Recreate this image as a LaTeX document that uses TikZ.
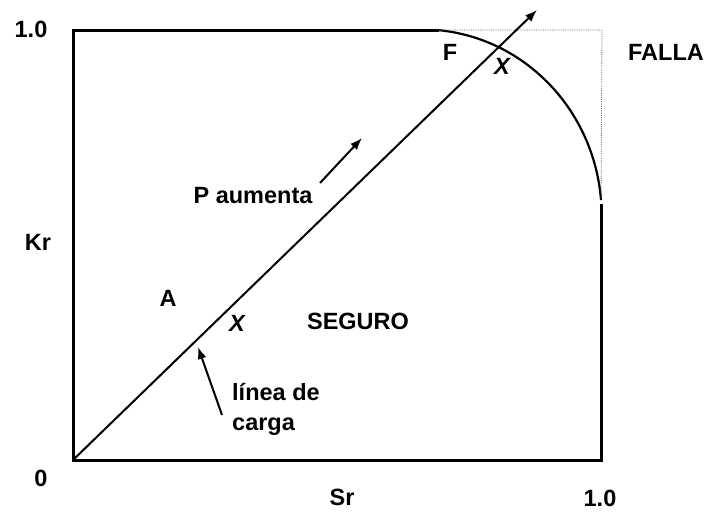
\documentclass[tikz,border=0pt]{standalone}
\usepackage{fontspec}
\setmainfont{Liberation Sans}
\usetikzlibrary{arrows.meta}
\begin{document}
\begin{tikzpicture}[x=1pt,y=-1pt,
  lbl/.style={font=\fontsize{23.5}{29}\selectfont\bfseries, inner sep=0pt, text=black},
  ilbl/.style={lbl, font=\fontsize{23.5}{29}\selectfont\bfseries\itshape},
  frame/.style={line width=3pt, line cap=rect},
  curve/.style={line width=2.2pt},
  guide/.style={densely dotted, line width=0.8pt, black!60},
  arr/.style={line width=2pt, -{Latex[length=12pt,width=9pt]}}]
\useasboundingbox (0,0) rectangle (710,512);
% key coordinates
\coordinate (O) at (73,460);
\coordinate (TL) at (73,30);
\coordinate (BR) at (601,460);
\coordinate (AS) at (437,30);
\coordinate (AE) at (601,200);
\coordinate (RS) at (601,205);
\coordinate (CR) at (602,30);
\coordinate (TIP) at (537,10);
% frame
\draw[frame] (AS) -- (TL) -- (O) -- (BR) -- (RS);
% failure curve
\draw[curve] (AS) .. controls (526,38) and (594,111) .. (AE);
% dotted guides
\draw[guide] (AS) -- (CR) -- (AE);
% load line
\draw[arr] (O) -- (TIP);
% labels
\node[lbl] (t10) at (31,29) {1.0};
\node[lbl] (kr) at (38,242) {Kr};
\node[lbl] (zero) at (41,478) {0};
\node[lbl] (sr) at (342,497) {Sr};
\node[lbl] (r10) at (600,498) {1.0};
\node[lbl] (falla) at (666,52) {FALLA};
\node[lbl] (F) at (450,52) {F};
\node[ilbl] (X1) at (502,66) {X};
\node[lbl] (paum) at (253,196) {P aumenta};
\node[lbl] (A) at (168,298) {A};
\node[ilbl] (X2) at (237,323) {X};
\node[lbl] (seg) at (358,321) {SEGURO};
\node[lbl, align=left, anchor=north west, font=\fontsize{23.5}{30}\selectfont\bfseries] (linea) at (232,383) {línea de\\carga};
% small arrows
\coordinate (pa1) at (320,183);
\coordinate (pa2) at (362,138);
\draw[arr] (pa1) -- (pa2);
\coordinate (la1) at (222,415);
\coordinate (la2) at (198,347);
\draw[arr] (la1) -- (la2);
\end{tikzpicture}
\end{document}
